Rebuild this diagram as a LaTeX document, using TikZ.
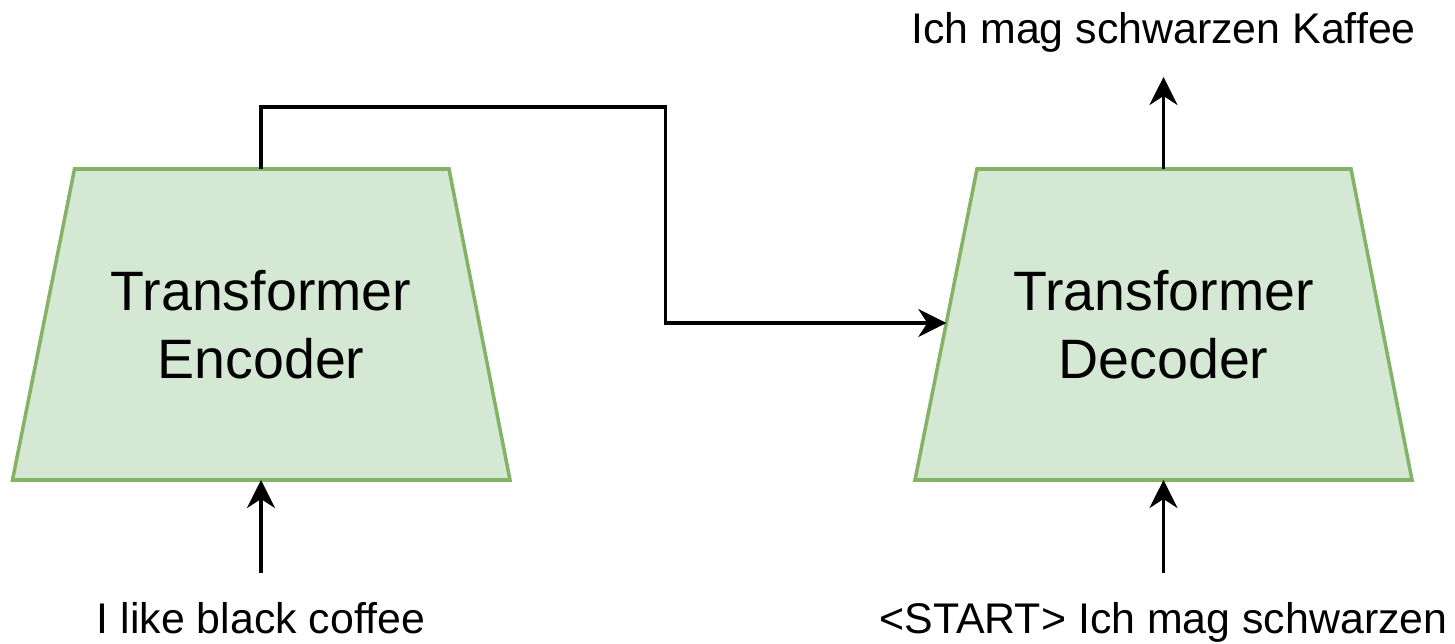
\documentclass[tikz,border=0pt]{standalone}
\usepackage{fontspec}
\setmainfont{Liberation Sans}
\usepackage{tikz}
\usetikzlibrary{arrows.meta}
\pgfdeclarelayer{edgelayer}
\pgfdeclarelayer{nodelayer}
\pgfsetlayers{edgelayer,nodelayer,main}
\definecolor{lgreen}{HTML}{D5E8D4}
\definecolor{dgreen}{HTML}{82B366}
\tikzstyle{none}=[inner sep=0pt]
\tikzstyle{block}=[fill=lgreen,draw=dgreen,line width=1.000,line join=miter]
\tikzstyle{title}=[align=center,inner sep=0pt,font=\fontsize{15.8}{19.4}\selectfont]
\tikzstyle{words}=[inner sep=0pt,font=\fontsize{12.2}{14}\selectfont]
\tikzstyle{inarrow}=[-{Stealth[length=0.28cm,width=0.28cm,inset=0.09cm]},line width=1.000]

\begin{document}
\begin{tikzpicture}
	\useasboundingbox (0,0) rectangle (14.55,6.43);
	\begin{pgfonlayer}{nodelayer}
		\node [style=none] (ETL) at (0.745, 4.74) {};
		\node [style=none] (ETR) at (4.49, 4.74) {};
		\node [style=none] (EBR) at (5.10, 1.63) {};
		\node [style=none] (EBL) at (0.125, 1.63) {};
		\node [style=none] (DTL) at (9.77, 4.74) {};
		\node [style=none] (DTR) at (13.51, 4.74) {};
		\node [style=none] (DBR) at (14.12, 1.63) {};
		\node [style=none] (DBL) at (9.15, 1.63) {};
		\node [style=none] (ET) at (2.61, 4.74) {};
		\node [style=none] (EB) at (2.61, 1.63) {};
		\node [style=none] (DT) at (11.635, 4.74) {};
		\node [style=none] (DB) at (11.635, 1.63) {};
		\node [style=none] (DL) at (9.463, 3.20) {};
		\node [style=title] (enc) at (2.61, 3.185) {Transformer\\Encoder};
		\node [style=title] (dec) at (11.635, 3.185) {Transformer\\Decoder};
		\node [style=words, anchor=base] (src) at (2.61, 0.10) {I like black coffee};
		\node [style=words, anchor=base] (shifted) at (11.635, 0.10) {<START> Ich mag schwarzen};
		\node [style=words, anchor=base] (tgt) at (11.635, 6.00) {Ich mag schwarzen Kaffee};
		\node [style=none] (encin) at (2.61, 0.70) {};
		\node [style=none] (decin) at (11.635, 0.70) {};
		\node [style=none] (decout) at (11.635, 5.66) {};
		\node [style=none] (bend) at (6.655, 5.36) {};
	\end{pgfonlayer}
	\begin{pgfonlayer}{edgelayer}
		\filldraw [style=block] (ETL.center) to (ETR.center) to (EBR.center) to (EBL.center) -- cycle;
		\filldraw [style=block] (DTL.center) to (DTR.center) to (DBR.center) to (DBL.center) -- cycle;
		\draw [style=inarrow] (encin.center) to (EB.center);
		\draw [style=inarrow] (decin.center) to (DB.center);
		\draw [style=inarrow] (DT.center) to (decout.center);
		\draw [style=inarrow] (ET.center) |- (bend.center) |- (DL.center);
	\end{pgfonlayer}
\end{tikzpicture}
\end{document}
